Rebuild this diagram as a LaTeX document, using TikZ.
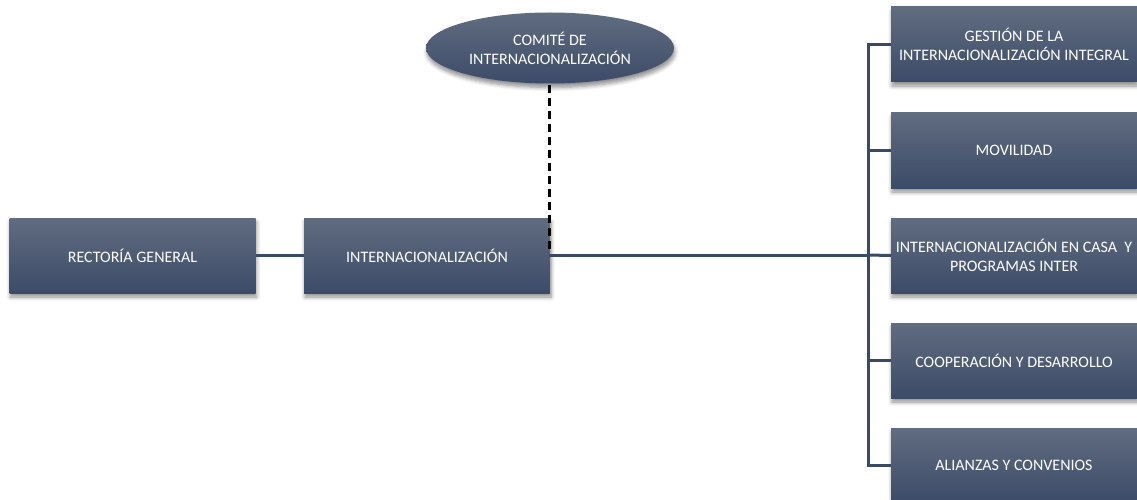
\documentclass[tikz,border=0pt]{standalone}
\usepackage{fontspec}
\setmainfont{Carlito}
\usetikzlibrary{shapes.geometric,shadows.blur}
\definecolor{boxtop}{RGB}{96,108,128}
\definecolor{boxbot}{RGB}{60,75,104}
\definecolor{linec}{RGB}{58,73,100}
\tikzset{
  orgbox/.style={rectangle, minimum width=246pt, minimum height=75pt, inner sep=2pt,
    top color=boxtop, bottom color=boxbot, draw=none, text=white, align=center,
    font=\fontsize{16}{19}\selectfont,
    blur shadow={shadow xshift=1pt, shadow yshift=-4pt, shadow blur steps=6, shadow blur radius=4pt, shadow opacity=45}},
  orgell/.style={ellipse, minimum width=248pt, minimum height=71pt, inner sep=0pt,
    top color=boxtop, bottom color=boxbot, draw=none, text=white, align=center,
    font=\fontsize{16}{19}\selectfont,
    blur shadow={shadow xshift=1pt, shadow yshift=-4pt, shadow blur steps=6, shadow blur radius=4pt, shadow opacity=45}},
  conn/.style={draw=linec, line width=3pt},
  dashconn/.style={draw=black, line width=3pt, dash pattern=on 8pt off 5pt},
}
\begin{document}
\begin{tikzpicture}[x=1pt,y=-1pt]
\useasboundingbox (0,0) rectangle (1137,500);
\node[orgbox] (rect) at (132.5,255.5) {RECTORÍA GENERAL};
\node[orgbox] (inter) at (427,255.5) {INTERNACIONALIZACIÓN};
\node[orgell] (comite) at (550,48) {COMITÉ DE\\INTERNACIONALIZACIÓN};
\node[orgbox] (b1) at (1014,44.5) {GESTIÓN DE LA\\INTERNACIONALIZACIÓN INTEGRAL};
\node[orgbox] (b2) at (1014,150.5) {MOVILIDAD};
\node[orgbox] (b3) at (1014,255.5) {INTERNACIONALIZACIÓN EN CASA\ \ Y\\PROGRAMAS INTER};
\node[orgbox] (b4) at (1014,360.5) {COOPERACIÓN Y DESARROLLO};
\node[orgbox] (b5) at (1014,465.5) {ALIANZAS Y CONVENIOS};
\coordinate (bus) at (868,255);
\coordinate (dashtop) at (549,85);
\coordinate (dashend) at (549,250);
\draw[conn] (rect.east) -- (inter.west);
\draw[conn] (549,255) -- (bus);
\draw[conn] (b1.west) -| (bus);
\draw[conn] (b5.west) -| (bus);
\draw[conn] (b2.west) -- (b2.west -| bus);
\draw[conn] (b3.west) -- (bus);
\draw[conn] (b4.west) -- (b4.west -| bus);
\draw[dashconn] (dashtop) -- (dashend);
\end{tikzpicture}
\end{document}
